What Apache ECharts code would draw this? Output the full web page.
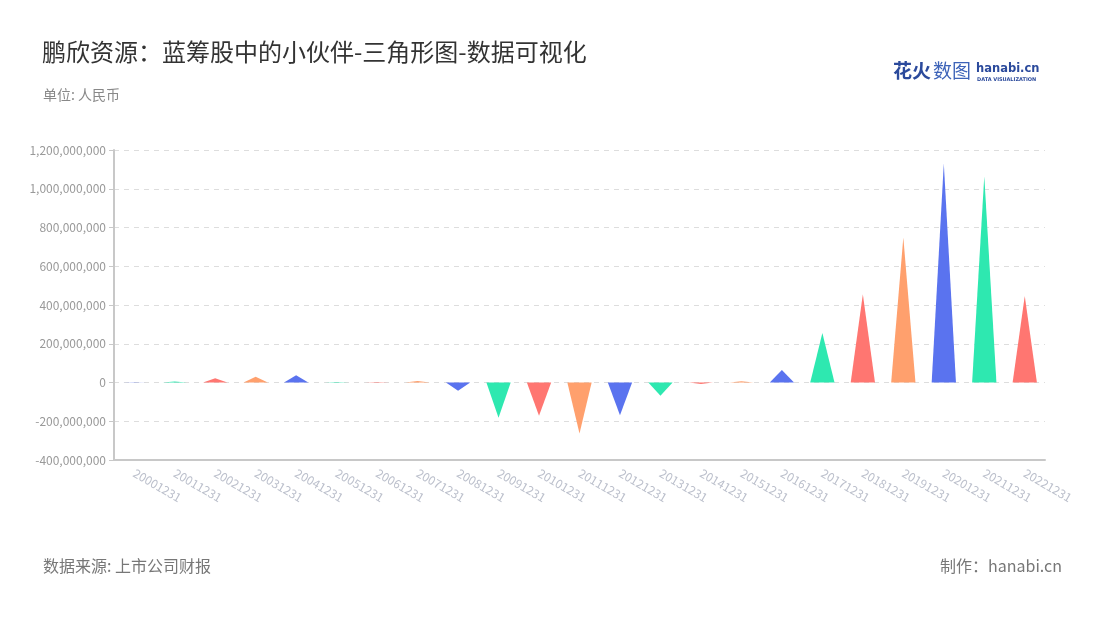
<!DOCTYPE html>
<html><head><meta charset="utf-8">
<script src="https://cdn.jsdelivr.net/npm/echarts@6/dist/echarts.min.js"></script>
<style>html,body{margin:0;padding:0;background:#fff}#c{width:1100px;height:620px}</style>
</head><body><div id="c"></div>
<script>
const categories = ['20001231','20011231','20021231','20031231','20041231','20051231','20061231','20071231','20081231','20091231','20101231','20111231','20121231','20131231','20141231','20151231','20161231','20171231','20181231','20191231','20201231','20211231','20221231'];
const values = [1000000, 5000000, 22000000, 30000000, 38000000, 2000000, 3000000, 8000000, -43000000, -182000000, -172000000, -263000000, -169000000, -69000000, -8000000, 6000000, 64000000, 256000000, 456000000, 749000000, 1130000000, 1065000000, 447000000];
const yTicks = {min: -400000000, max: 1200000000, interval: 200000000};
const palette = ['#5a73ef', '#2ee8b0', '#ff7671', '#ffa06d'];

const FONT = 'Noto Sans CJK SC';
const chart = echarts.init(document.getElementById('c'), null, {renderer: 'canvas'});
chart.setOption({
  backgroundColor: '#fff',
  textStyle: {fontFamily: FONT},
  title: [
    {text: '鹏欣资源：蓝筹股中的小伙伴-三角形图-数据可视化', left: 37, top: 35,
     textStyle: {fontSize: 24, fontWeight: 'normal', color: '#333', fontFamily: FONT}},
    {text: '单位: 人民币', left: 38, top: 83,
     textStyle: {fontSize: 14, fontWeight: 'normal', color: '#888', fontFamily: FONT}},
    {text: '数据来源: 上市公司财报', left: 38, top: 553,
     textStyle: {fontSize: 16, fontWeight: 'normal', color: '#777', fontFamily: FONT}},
    {text: '制作：hanabi.cn', right: 33, top: 553,
     textStyle: {fontSize: 16, fontWeight: 'normal', color: '#777', fontFamily: FONT}}
  ],
  graphic: [
    {type: 'text', left: 893, top: 61, style: {text: '花火', fontSize: 19, fontWeight: 'bold', fill: '#2b4a9c', fontFamily: FONT}},
    {type: 'text', left: 933, top: 61, style: {text: '数图', fontSize: 19, fontWeight: 'normal', fill: '#3d63b8', fontFamily: FONT}},
    {type: 'text', left: 976, top: 63, style: {text: 'hanabi.cn', fontSize: 11.5, fontWeight: 'bold', fill: '#2b4a9c', fontFamily: 'DejaVu Sans'}},
    {type: 'text', left: 977, top: 77, style: {text: 'DATA VISUALIZATION', fontSize: 5, fontWeight: 'bold', fill: '#2b4a9c', fontFamily: 'DejaVu Sans'}}
  ],
  grid: {left: 114, right: 55, top: 150, bottom: 160},
  xAxis: {
    type: 'category', data: categories,
    axisLine: {onZero: false, lineStyle: {color: '#c8c8c8', width: 2}},
    axisTick: {alignWithLabel: true, lineStyle: {color: '#c8c8c8'}},
    axisLabel: {rotate: -30, color: '#bcc0cc', fontSize: 12, margin: 12, interval: 0, fontFamily: FONT},
    splitLine: {show: false}
  },
  yAxis: {
    type: 'value', min: yTicks.min, max: yTicks.max, interval: yTicks.interval,
    axisLine: {show: true, lineStyle: {color: '#c8c8c8', width: 2}},
    axisTick: {show: true, lineStyle: {color: '#c8c8c8'}},
    axisLabel: {color: '#999', fontSize: 12, fontFamily: FONT,
      formatter: v => v.toLocaleString('en-US')},
    splitLine: {lineStyle: {color: '#ddd', type: [5, 5]}}
  },
  series: [{
    type: 'pictorialBar',
    data: values.map((v, i) => ({value: v, itemStyle: {color: palette[i % 4]}})),
    symbol: 'path://M0,10 L10,10 L5,0 Z',
    barWidth: '60%',
    symbolSize: ['100%', '100%'],
    symbolClip: false
  }]
});
</script></body></html>
